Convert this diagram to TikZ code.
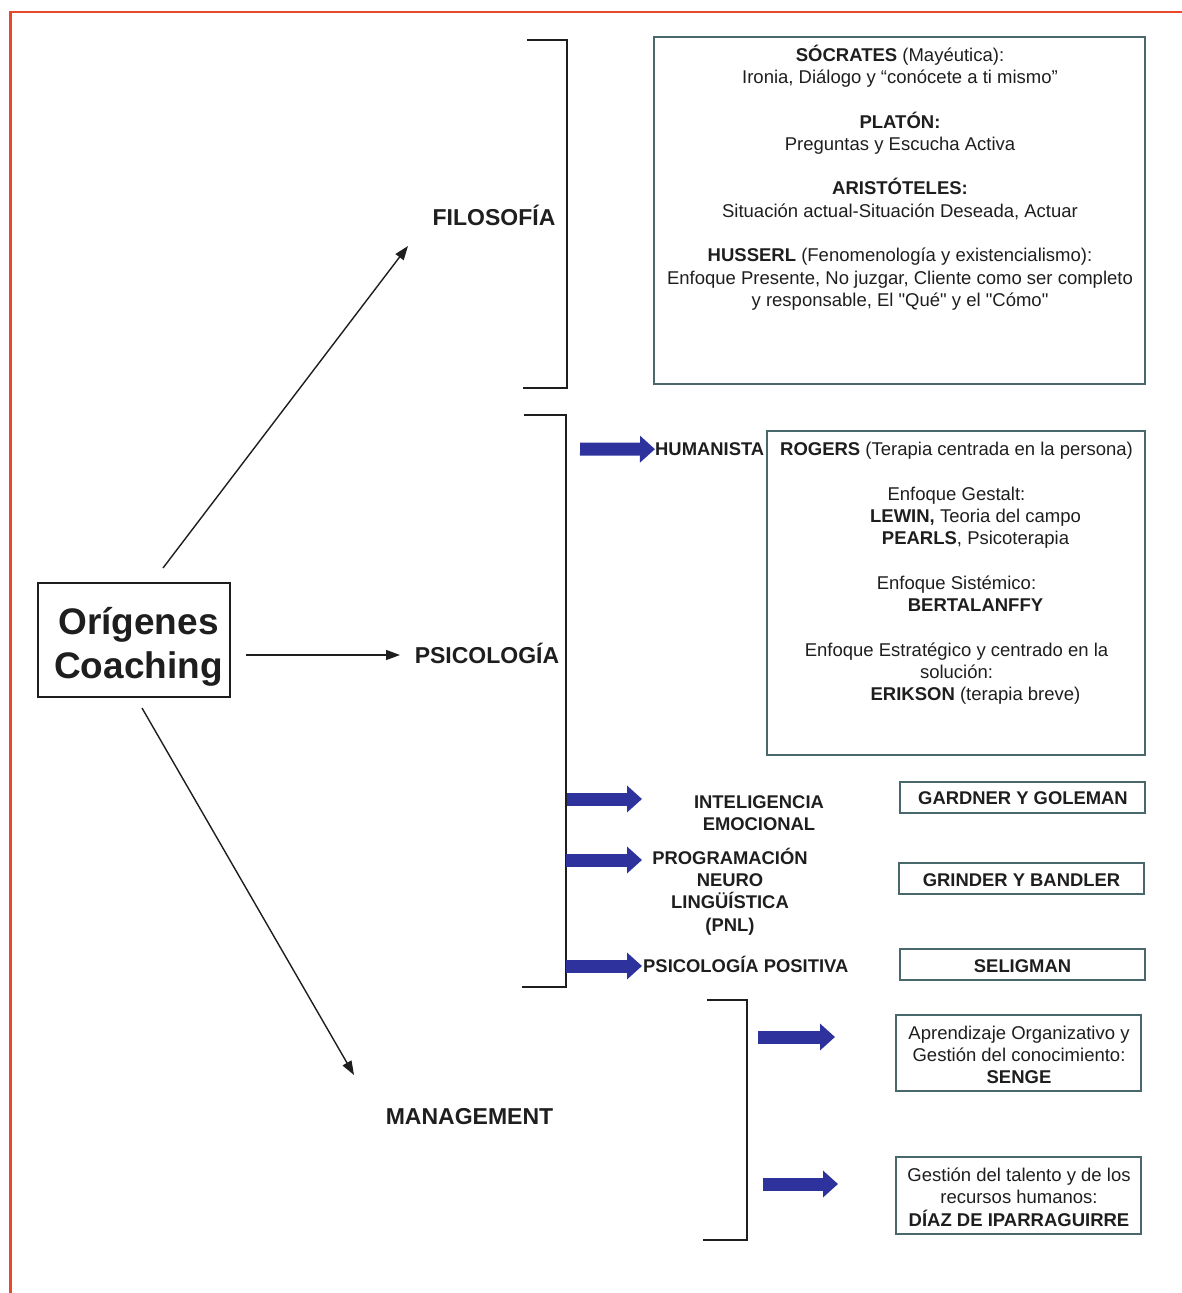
\documentclass[tikz,border=0pt]{standalone}
\usepackage{fontspec}
\setmainfont{Liberation Sans}[Ligatures=TeXOff]
\usetikzlibrary{arrows.meta}

\definecolor{frameline}{HTML}{E64A2B}
\definecolor{boxline}{HTML}{48686C}
\definecolor{navy}{RGB}{45,50,156}
\definecolor{ink}{HTML}{1E1E1E}

\begin{document}
\begin{tikzpicture}[x=1pt,y=-1pt,
  every node/.style={inner sep=0pt, text=ink},
  body/.style={font=\fontsize{18.5}{22.3}\selectfont, align=center},
  lbl/.style={font=\bfseries\fontsize{18.4}{22.3}\selectfont, align=center},
  branch/.style={font=\bfseries\fontsize{23}{27}\selectfont},
  panel/.style={draw=boxline, line width=1.6pt},
  bracket/.style={draw=ink, line width=2.4pt},
  link/.style={draw=ink, line width=1.4pt, -{Triangle[length=14pt,width=10pt]}},
  fat/.style={draw=navy, line width=13pt, -{Triangle[length=15pt,width=26pt]}},
]
\useasboundingbox (0,0) rectangle (1182,1293);

% outer frame (top and left edges)
\draw[frameline, line width=2.5pt] (9,12) -- (1182,12);
\draw[frameline, line width=3pt] (10.5,11) -- (10.5,1293);

% central box
\node[draw=ink, line width=2.5pt, minimum width=192, minimum height=114]
      (coach) at (134,640) {};
\node[font=\bfseries\fontsize{37}{44}\selectfont, align=center]
      (coachtext) at (138.5,647) {Orígenes\\Coaching};

% branch labels
\node[branch, anchor=base] (filo)  at (494,225)    {FILOSOFÍA};
\node[branch, anchor=base] (psico) at (487,663)    {PSICOLOGÍA};
\node[branch, anchor=base] (mgmt)  at (469.5,1124) {MANAGEMENT};

% arrows from the central box
\coordinate (a1s) at (163,568);  \coordinate (a1e) at (408,246);
\coordinate (a2s) at (246,655);  \coordinate (a2e) at (400,655);
\coordinate (a3s) at (142,708);  \coordinate (a3e) at (354,1075);
\draw[link] (a1s) -- (a1e);
\draw[link] (a2s) -- (a2e);
\draw[link] (a3s) -- (a3e);

% brackets
\draw[bracket] (527,40) -- (567,40) -- (567,388) -- (523,388);
\draw[bracket] (524,415) -- (566,415) -- (566,987) -- (522,987);
\draw[bracket] (707,1000) -- (747,1000) -- (747,1240) -- (703,1240);

% philosophy panel
\node[panel, minimum width=491, minimum height=347] (filobox) at (899.5,210.5) {};
\node[body] (filotext) at (900,177.5) {%
  \textbf{SÓCRATES} (Mayéutica):\\
  Ironia, Diálogo y “conócete a ti mismo”\\[22.3pt]
  \textbf{PLATÓN:}\\
  Preguntas y Escucha Activa\\[22.3pt]
  \textbf{ARISTÓTELES:}\\
  Situación actual-Situación Deseada, Actuar\\[22.3pt]
  \textbf{HUSSERL} (Fenomenología y existencialismo):\\
  Enfoque Presente, No juzgar, Cliente como ser completo\\
  y responsable, El "Qué" y el "Cómo"};

% psychology: humanist panel
\node[lbl, anchor=base west] (human) at (655,455.5) {HUMANISTA};
\node[panel, minimum width=378, minimum height=324] (rogbox) at (956,593) {};
\node[body] (rogtext) at (956.5,573.5) {%
  \textbf{ROGERS} (Terapia centrada en la persona)\\[22.3pt]
  Enfoque Gestalt:\\
  \hspace*{38pt}\textbf{LEWIN,} Teoria del campo\\
  \hspace*{38pt}\textbf{PEARLS}, Psicoterapia\\[22.3pt]
  Enfoque Sistémico:\\
  \hspace*{38pt}\textbf{BERTALANFFY}\\[22.3pt]
  Enfoque Estratégico y centrado en la\\
  solución:\\
  \hspace*{38pt}\textbf{ERIKSON} (terapia breve)};

% psychology: other currents
\node[lbl] (ie)  at (759,813)   {INTELIGENCIA\\EMOCIONAL};
\node[lbl] (pnl) at (730,891.5) {PROGRAMACIÓN\\NEURO\\LINGÜÍSTICA\\(PNL)};
\node[lbl, anchor=base west] (pp) at (643,972.6) {PSICOLOGÍA POSITIVA};

\node[panel, minimum width=245, minimum height=31] (gardner)  at (1022.5,797.5) {};
\node[panel, minimum width=245, minimum height=31] (grinder)  at (1021.5,878.5) {};
\node[panel, minimum width=245, minimum height=31] (seligman) at (1022.5,964.5) {};
\node[lbl] (gardnertext)  at (1023,798.5) {GARDNER Y GOLEMAN};
\node[lbl] (grindertext)  at (1021.5,880) {GRINDER Y BANDLER};
\node[lbl] (seligmantext) at (1022.5,966) {SELIGMAN};

% management panels
\node[panel, minimum width=245, minimum height=76] (senge) at (1018.5,1053) {};
\node[body] (sengetext) at (1019,1055)
  {Aprendizaje Organizativo y\\Gestión del conocimiento:\\\textbf{SENGE}};
\node[panel, minimum width=245, minimum height=77] (diaz) at (1018.5,1195.5) {};
\node[body] (diaztext) at (1019,1197)
  {Gestión del talento y de los\\recursos humanos:\\\textbf{DÍAZ DE IPARRAGUIRRE}};

% blue pointers
\coordinate (b1) at (580,449);
\coordinate (b2s) at (567,799);  \coordinate (b2e) at (642,799);
\coordinate (b3s) at (566,860);  \coordinate (b3e) at (642,860);
\coordinate (b4s) at (566,966);  \coordinate (b4e) at (642,966);
\coordinate (b5s) at (758,1037); \coordinate (b5e) at (835,1037);
\coordinate (b6s) at (763,1184); \coordinate (b6e) at (838,1184);
\draw[fat] (b1) -- (human.west);
\draw[fat] (b2s) -- (b2e);
\draw[fat] (b3s) -- (b3e);
\draw[fat] (b4s) -- (b4e);
\draw[fat] (b5s) -- (b5e);
\draw[fat] (b6s) -- (b6e);
\end{tikzpicture}
\end{document}
